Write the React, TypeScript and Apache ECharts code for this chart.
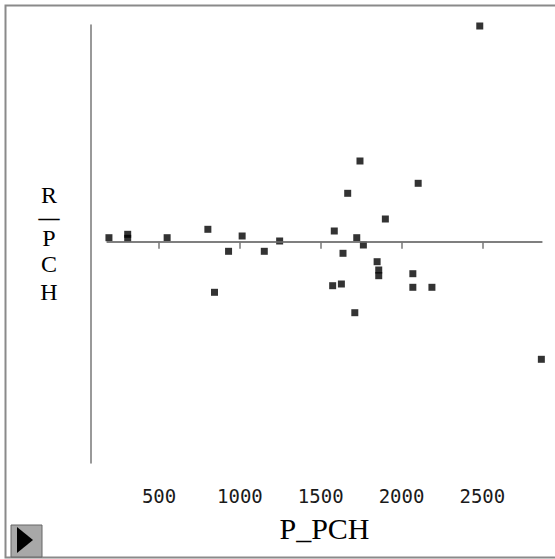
import React, { useEffect, useRef } from "react";
import * as echarts from "echarts";

const xValues = [190, 306, 306, 550, 802, 843, 930, 1014, 1151, 1246, 1584, 1574, 1628, 1638, 1667, 1743, 1711, 1723, 1764, 1849, 1859, 1859, 1900, 2070, 2070, 2103, 2188, 2484, 2865];
const yValues = [0.04, 0.074, 0.034, 0.04, 0.124, -0.506, -0.096, 0.057, -0.096, 0.007, 0.107, -0.44, -0.423, -0.116, 0.484, 0.807, -0.71, 0.04, -0.033, -0.2, -0.283, -0.34, 0.227, -0.32, -0.456, 0.584, -0.456, 2.157, -1.176];
const xTicks = [500, 1000, 1500, 2000, 2500];
const xName = "P_PCH";
const yNameChars = ["R", "_", "P", "C", "H"];
const xRange = [178, 2869];
const yRange = [-2.213, 2.167];

export default function App() {
  const ref = useRef<HTMLDivElement>(null);
  useEffect(() => {
    if (!ref.current) return;
    const chart = echarts.init(ref.current, null, { renderer: "svg" });
    const points = xValues.map((x, i) => [x, yValues[i]]);
    const yCharPos = [195, 214.5, 237.5, 263.5, 291.5];
    const yCharSize = [24, 10, 24, 24, 24];
    const yCharScaleX = [1, 3.6, 1, 1, 1];
    chart.setOption({
      animation: false,
      backgroundColor: "#ffffff",
      grid: { left: 107, right: 13, top: 25, bottom: 96 },
      xAxis: {
        type: "value",
        min: xRange[0],
        max: xRange[1],
        offset: 14,
        name: xName,
        nameLocation: "middle",
        nameGap: 36,
        nameTextStyle: { fontFamily: "Liberation Serif", fontSize: 30, color: "#000" },
        axisLine: { show: true, lineStyle: { color: "#777", width: 1.5 } },
        axisTick: { show: true, length: 7, customValues: xTicks, lineStyle: { color: "#777", width: 1.5 } },
        axisLabel: {
          customValues: xTicks,
          margin: 9,
          fontFamily: "DejaVu Sans Mono",
          fontSize: 19,
          color: "#1a1a1a",
          formatter: (v: number) => String(v),
        },
        splitLine: { show: false },
      },
      yAxis: {
        type: "value",
        min: yRange[0],
        max: yRange[1],
        offset: 16,
        axisLine: { show: true, lineStyle: { color: "#777", width: 1.5 } },
        axisTick: { show: false },
        axisLabel: { show: false },
        splitLine: { show: false },
      },
      series: [
        {
          type: "scatter",
          data: points,
          symbol: "rect",
          symbolSize: 7,
          itemStyle: { color: "#000" },
          markLine: {
            silent: true,
            symbol: "none",
            label: { show: false },
            lineStyle: { color: "#777", width: 1.5, type: "solid" },
            data: [{ yAxis: 0 }],
          },
        },
      ],
      graphic: [
        {
          type: "rect",
          shape: { x: 5.5, y: 5.5, width: 560, height: 552 },
          style: { fill: "none", stroke: "#8a8a8a", lineWidth: 2 },
          silent: true,
        },
        {
          type: "rect",
          shape: { x: 11, y: 525, width: 31, height: 32 },
          style: { fill: "#a8a8a8", stroke: "#666", lineWidth: 1 },
          silent: true,
        },
        {
          type: "polygon",
          shape: { points: [[17, 527], [17, 553], [33, 540]] },
          style: { fill: "#000" },
          silent: true,
        },
        ...yNameChars.map((c, i) => ({
          type: "text",
          x: 49,
          y: yCharPos[i],
          scaleX: yCharScaleX[i],
          style: {
            text: c,
            fontFamily: "Liberation Serif",
            fontSize: yCharSize[i],
            fill: "#000",
            stroke: c === "_" ? "#000" : undefined,
            lineWidth: c === "_" ? 0.8 : 0,
            align: "center",
            verticalAlign: "middle",
          },
          silent: true,
        })),
      ],
    });
    return () => chart.dispose();
  }, []);
  return (
    <div
      ref={ref}
      style={{ position: "fixed", left: 0, top: 0, width: 555, height: 559 }}
    />
  );
}
